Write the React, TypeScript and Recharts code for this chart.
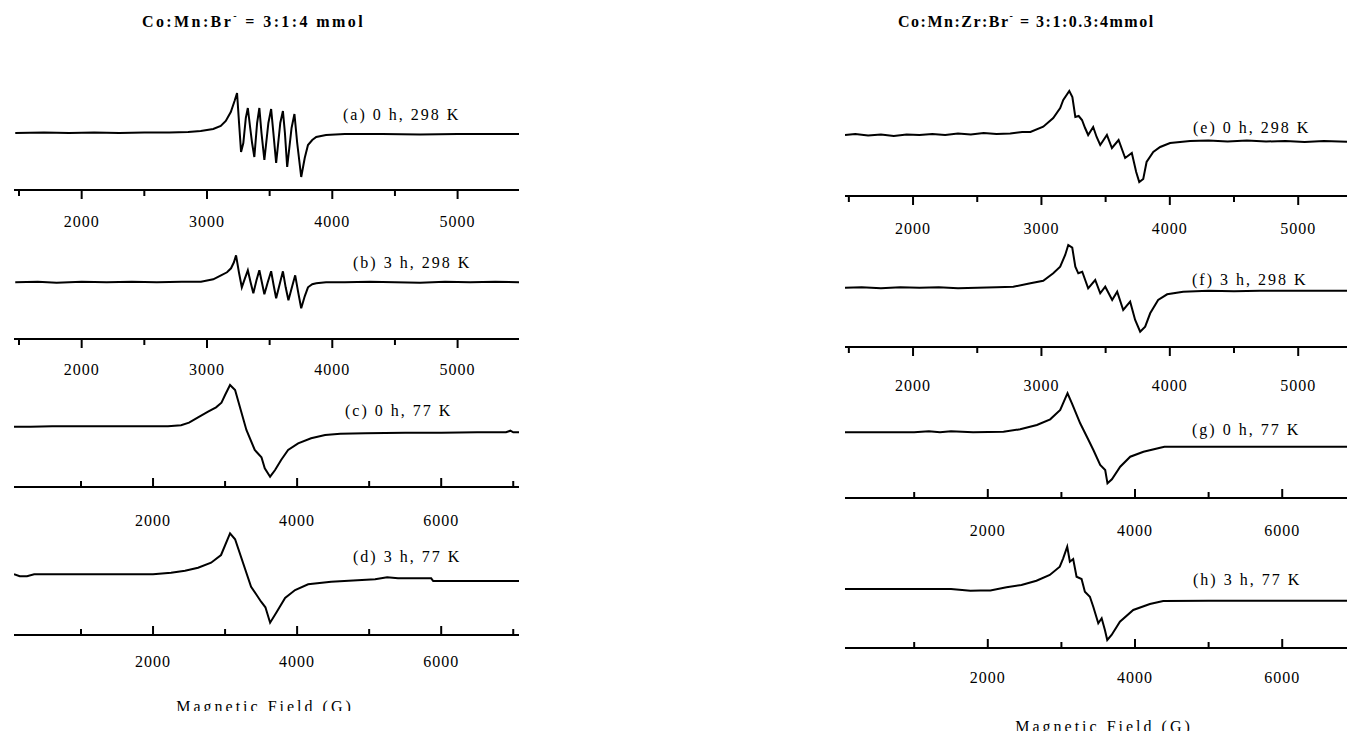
import React from 'react';
import { LineChart, Line, XAxis, YAxis } from 'recharts';

// ---------- DATA (magnetic field in G, EPR intensity in arbitrary units) ----------
const fieldsA = [1470, 1700, 1900, 2100, 2300, 2500, 2700, 2850, 2950, 3050, 3110, 3150, 3190, 3220, 3240, 3256, 3272, 3290, 3310, 3326, 3345, 3360, 3378, 3400, 3418, 3435, 3458, 3490, 3512, 3530, 3552, 3585, 3606, 3622, 3640, 3675, 3698, 3720, 3752, 3780, 3806, 3840, 3872, 3950, 4100, 4400, 4700, 5000, 5300, 5490];
const intensityA = [0, 0.5, 0, 0.5, 0, 0.5, 0.5, 1, 2, 4, 7, 12, 21, 32, 40, 10, -19, -10, 15, 25, 5, -10, -24, 10, 25, 0, -27, 10, 24, 0, -30, 10, 22, 0, -34, 5, 19, -10, -44, -25, -12, -7, -4, -2, -1, -1, -1.5, -1, -1, -1];

const fieldsB = [1470, 1650, 1800, 2000, 2200, 2400, 2600, 2800, 2952, 3050, 3112, 3160, 3192, 3215, 3232, 3255, 3278, 3300, 3326, 3348, 3370, 3395, 3418, 3438, 3458, 3485, 3512, 3532, 3552, 3580, 3606, 3628, 3650, 3680, 3704, 3728, 3752, 3780, 3806, 3840, 3872, 3950, 4100, 4300, 4500, 4700, 4900, 5100, 5300, 5490];
const intensityB = [0, 0.5, -0.5, 0.5, 0, 0.5, 0, 0.5, 0.6, 3, 7, 10, 14, 20, 27, 10, -5, 3, 12, 0, -11, 2, 12, 0, -12, 0, 11, -3, -16, -2, 11, -5, -18, -4, 7, -10, -26, -14, -5, -2, -1, 0, 0, 0.5, 0, -0.5, 0.5, 0, 0.5, 0];

const fieldsC = [70, 300, 600, 1000, 1500, 2000, 2208, 2389, 2500, 2625, 2764, 2875, 2950, 3000, 3069, 3139, 3296, 3412, 3505, 3551, 3625, 3694, 3778, 3875, 4014, 4194, 4389, 4600, 4944, 5500, 6000, 6500, 6900, 6960, 7000, 7080];
const intensityC = [0, 0, 0.5, 0.5, 0.5, 0.5, 0.5, 1.5, 4, 9.4, 15, 19.4, 24, 31.7, 41.7, 36.7, -3.3, -23.3, -30.6, -41.6, -50, -43.3, -33.3, -23.3, -16.6, -11.6, -8.3, -7, -6.6, -6, -6, -5.6, -5.6, -4, -5.6, -5.6];

const fieldsD = [70, 150, 250, 350, 500, 1000, 1500, 2000, 2250, 2444, 2625, 2806, 2944, 3069, 3139, 3361, 3500, 3560, 3625, 3708, 3833, 3972, 4153, 4472, 5083, 5250, 5400, 5861, 5889, 6500, 7080];
const intensityD = [0, -2, -2, 0, 0, 0, 0, 0, 1.6, 3.5, 6.6, 11.6, 19.3, 41, 35, -12.4, -27.4, -33, -48.4, -38.7, -23.7, -15.7, -10, -7.4, -5, -3, -4, -4, -6.7, -6.7, -6.7];

const fieldsE = [1470, 1550, 1650, 1750, 1850, 1950, 2050, 2150, 2250, 2350, 2450, 2550, 2650, 2757, 2850, 2914, 3014, 3092, 3146, 3170, 3217, 3241, 3264, 3290, 3316, 3340, 3364, 3403, 3430, 3458, 3510, 3549, 3601, 3652, 3704, 3738, 3762, 3793, 3819, 3871, 3925, 4002, 4080, 4158, 4300, 4450, 4600, 4750, 4900, 5050, 5200, 5380];
const intensityE = [0, 1, -0.5, 0.5, -1, 0.5, 0, 1, 0, 1.5, 0.5, 2, 1, 1.5, 3, 3, 8.3, 17, 27, 35, 44, 38, 18, 19, 15, 7, 0, 8, -2, -10, 0, -13, -5, -23, -18, -37, -47, -44, -27, -17, -12, -8, -7, -6, -5.5, -6.5, -5.5, -6.5, -6, -7, -6, -6.7];

const fieldsF = [1470, 1600, 1750, 1900, 2050, 2200, 2350, 2500, 2650, 2781, 2914, 3014, 3092, 3146, 3185, 3209, 3240, 3264, 3287, 3318, 3364, 3419, 3458, 3497, 3551, 3590, 3637, 3691, 3730, 3769, 3808, 3847, 3909, 3979, 4104, 4300, 4500, 4700, 4900, 5100, 5380];
const intensityF = [0, 0.5, -0.5, 0.5, 0, 0.5, -0.5, 0, 0.5, 1, 4.4, 7, 14.4, 21, 32.7, 42.7, 40, 21, 14.4, 16, -0.6, 7.7, -5.6, 1, -12.3, -4, -22.3, -14, -32.3, -44, -39, -25.6, -12.3, -6.6, -4, -3, -3.5, -3, -3, -3, -3];

const fieldsG = [60, 500, 1000, 1200, 1350, 1500, 1800, 2213, 2440, 2667, 2848, 2984, 3052, 3083, 3143, 3255, 3368, 3436, 3527, 3595, 3626, 3686, 3799, 3935, 4115, 4342, 4400, 5000, 5500, 6000, 6880];
const intensityG = [0, 0, 0, 1, 0, 1, 0, 0.6, 3, 7.3, 13, 22.3, 34, 39, 29, 9, -7.7, -18, -32.7, -37.7, -51, -47, -34.4, -24.4, -19.4, -15.4, -14.4, -14.4, -14.4, -14.4, -14.4];

const fieldsH = [60, 500, 1000, 1500, 1764, 1900, 2035, 2254, 2457, 2661, 2842, 2978, 3024, 3079, 3115, 3160, 3206, 3274, 3319, 3387, 3433, 3501, 3547, 3591, 3623, 3682, 3795, 3976, 4202, 4383, 5000, 6000, 6880];
const intensityH = [0, 0, 0, 0, -1.7, -1.5, -1.5, 1.7, 4, 8.3, 14, 22.3, 30.7, 42.3, 27.3, 30, 12.3, 10, -2.7, -7.7, -17.7, -34.3, -29.3, -41, -51, -46, -32.7, -21, -15, -12, -11.7, -11.7, -11.7];

// tick values
const ticks298 = [1500, 2000, 2500, 3000, 3500, 4000, 4500, 5000];
const labels298 = [2000, 3000, 4000, 5000];
const ticks77 = [1000, 2000, 3000, 4000, 5000, 6000, 7000];
const labels77 = [2000, 4000, 6000];

// text
const titleLeft = 'Co:Mn:Br';
const titleLeftRest = ' = 3:1:4 mmol';
const titleRight = 'Co:Mn:Zr:Br';
const titleRightRest = ' = 3:1:0.3:4mmol';
const axisTitle = 'Magnetic Field (G)';
const panelNames = ['(a) 0 h, 298 K', '(b) 3 h, 298 K', '(c) 0 h, 77 K', '(d) 3 h, 77 K', '(e) 0 h, 298 K', '(f) 3 h, 298 K', '(g) 0 h, 77 K', '(h) 3 h, 77 K'];

const build = (f: number[], v: number[]) => f.map((x, i) => ({ field: x, intensity: v[i] }));

// ---------- LAYOUT ----------
const FONT = '"Liberation Serif", "Times New Roman", serif';
const PLOT_H = 110;
const AXIS_H = 50;

type PanelCfg = {
  data: { field: number; intensity: number }[];
  left: number; width: number; axisY: number; baseY: number;
  xDomain: [number, number]; ticks: number[]; labels: number[];
  dir: number; labelOffset: number;
  name: string; nameX: number; nameY: number;
};

const panels: PanelCfg[] = [
  { data: build(fieldsA, intensityA), left: 14, width: 505, axisY: 190, baseY: 133, xDomain: [1460, 5490], ticks: ticks298, labels: labels298, dir: 1, labelOffset: 37, name: panelNames[0], nameX: 343, nameY: 120 },
  { data: build(fieldsB, intensityB), left: 14, width: 505, axisY: 339, baseY: 282.3, xDomain: [1460, 5490], ticks: ticks298, labels: labels298, dir: 1, labelOffset: 36, name: panelNames[1], nameX: 353, nameY: 268 },
  { data: build(fieldsC, intensityC), left: 14, width: 505, axisY: 487, baseY: 426.7, xDomain: [70, 7080], ticks: ticks77, labels: labels77, dir: -1, labelOffset: 39, name: panelNames[2], nameX: 345, nameY: 416 },
  { data: build(fieldsD, intensityD), left: 14, width: 505, axisY: 635, baseY: 574.3, xDomain: [70, 7080], ticks: ticks77, labels: labels77, dir: -1, labelOffset: 32, name: panelNames[3], nameX: 353, nameY: 562 },
  { data: build(fieldsE, intensityE), left: 845, width: 502, axisY: 196, baseY: 135, xDomain: [1470, 5380], ticks: ticks298, labels: labels298, dir: 1, labelOffset: 38, name: panelNames[4], nameX: 1193, nameY: 133 },
  { data: build(fieldsF, intensityF), left: 845, width: 502, axisY: 347, baseY: 287.7, xDomain: [1470, 5380], ticks: ticks298, labels: labels298, dir: 1, labelOffset: 44, name: panelNames[5], nameX: 1192, nameY: 285 },
  { data: build(fieldsG, intensityG), left: 845, width: 502, axisY: 498, baseY: 432.3, xDomain: [60, 6880], ticks: ticks77.slice(0, 6), labels: labels77, dir: -1, labelOffset: 38, name: panelNames[6], nameX: 1192, nameY: 435 },
  { data: build(fieldsH, intensityH), left: 845, width: 502, axisY: 648, baseY: 589, xDomain: [60, 6880], ticks: ticks77.slice(0, 6), labels: labels77, dir: -1, labelOffset: 35, name: panelNames[7], nameX: 1193, nameY: 585 },
];

const makeTick = (cfg: PanelCfg) => (props: any) => {
  const { x, y, payload } = props;
  const v = payload.value;
  const major = cfg.labels.includes(v);
  const len = major ? 9 : 6;
  return (
    <g>
      <line x1={x} x2={x} y1={y} y2={y + cfg.dir * len} stroke="#000" strokeWidth={2} />
      {major && (
        <text x={x} y={y + cfg.labelOffset} textAnchor="middle" fontFamily={FONT} fontSize={16} letterSpacing={1} fill="#000">
          {v}
        </text>
      )}
    </g>
  );
};

function Panel({ cfg }: { cfg: PanelCfg }) {
  const below = cfg.axisY - cfg.baseY;
  const yDomain: [number, number] = [-below, PLOT_H - below];
  return (
    <div style={{ position: 'absolute', left: cfg.left, top: cfg.axisY - PLOT_H, width: cfg.width, height: PLOT_H + AXIS_H }}>
      <LineChart width={cfg.width} height={PLOT_H + AXIS_H} data={cfg.data} margin={{ top: 0, right: 0, bottom: 0, left: 0 }}>
        <XAxis
          dataKey="field"
          type="number"
          domain={cfg.xDomain}
          allowDataOverflow
          ticks={cfg.ticks}
          interval={0}
          height={AXIS_H}
          tickSize={0}
          tickMargin={0}
          tickLine={false}
          axisLine={{ stroke: '#000', strokeWidth: 2 }}
          tick={makeTick(cfg)}
        />
        <YAxis hide type="number" domain={yDomain} allowDataOverflow />
        <Line type="linear" dataKey="intensity" stroke="#000" strokeWidth={2} dot={false} isAnimationActive={false} />
      </LineChart>
    </div>
  );
}

export default function App() {
  return (
    <div style={{ position: 'absolute', left: 0, top: 0, width: 1347, height: 734, background: '#fff', overflow: 'hidden' }}>
      {panels.map((p, i) => (
        <Panel key={i} cfg={p} />
      ))}
      <svg width={1347} height={734} style={{ position: 'absolute', left: 0, top: 0, pointerEvents: 'none' }}>
        <defs>
          <clipPath id="clipL"><rect x={0} y={0} width={660} height={711} /></clipPath>
          <clipPath id="clipR"><rect x={660} y={0} width={687} height={731} /></clipPath>
        </defs>
        <text x={142} y={27} fontFamily={FONT} fontSize={16} fontWeight="bold" letterSpacing={2.4} fill="#000">
          {titleLeft}
          <tspan dy={-8} fontSize={10}>-</tspan>
          <tspan dy={8}>{titleLeftRest}</tspan>
        </text>
        <text x={898} y={27} fontFamily={FONT} fontSize={16} fontWeight="bold" letterSpacing={1.5} fill="#000">
          {titleRight}
          <tspan dy={-8} fontSize={10}>-</tspan>
          <tspan dy={8}>{titleRightRest}</tspan>
        </text>
        {panels.map((p, i) => (
          <text key={i} x={p.nameX} y={p.nameY} fontFamily={FONT} fontSize={16} letterSpacing={2} fill="#000">
            {p.name}
          </text>
        ))}
        <g clipPath="url(#clipL)">
          <text x={265} y={712} textAnchor="middle" fontFamily={FONT} fontSize={16} letterSpacing={3} fill="#000">{axisTitle}</text>
        </g>
        <g clipPath="url(#clipR)">
          <text x={1104} y={732} textAnchor="middle" fontFamily={FONT} fontSize={16} letterSpacing={3} fill="#000">{axisTitle}</text>
        </g>
      </svg>
    </div>
  );
}
